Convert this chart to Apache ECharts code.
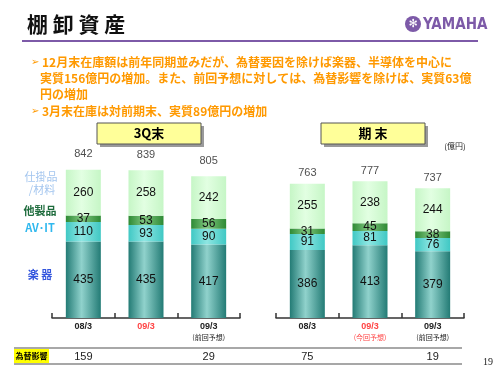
<!DOCTYPE html>
<html>
<head>
<meta charset="utf-8">
<script src="https://cdn.jsdelivr.net/npm/echarts@6/dist/echarts.min.js"></script>
<style>
  html, body { margin: 0; padding: 0; background: #fff; }
  #main { width: 500px; height: 375px; }
</style>
</head>
<body>
<div id="main"></div>
<script>
// 3Q末 (left) and 期末 (right) stacks, 億円
const q3Categories = ['08/3', '09/3', '09/3\n(前回予想)'];
const fyCategories = ['08/3', '09/3\n(今回予想)', '09/3\n(前回予想)'];

const q3Instruments = [435, 435, 417];
const q3AvIt = [110, 93, 90];
const q3Other = [37, 53, 56];
const q3Wip = [260, 258, 242];
const q3Total = [842, 839, 805];

const fyInstruments = [386, 413, 379];
const fyAvIt = [91, 81, 76];
const fyOther = [31, 45, 38];
const fyWip = [255, 238, 244];
const fyTotal = [763, 777, 737];

// 為替影響 row
const q3Fx = [159, null, 29];
const fyFx = [75, null, 19];

const font = '"Liberation Sans", Arial, sans-serif';
const jp = '"Noto Sans CJK JP", sans-serif';

function grad(edge, mid) {
  return {
    type: 'linear', x: 0, y: 0, x2: 1, y2: 0,
    colorStops: [
      { offset: 0, color: edge },
      { offset: 0.45, color: mid },
      { offset: 1, color: edge }
    ]
  };
}
const colInstruments = grad('#237b75', '#90d2cc');
const colAvIt = grad('#40c8c4', '#8ee6e2');
const colOther = grad('#2e8a34', '#80c680');
const colWip = grad('#c6f6c6', '#e2ffe2');

function segLabel() {
  return { show: true, position: 'inside', color: '#111', fontSize: 12, fontFamily: font };
}

function barSeries(name, data, color, g, stack) {
  return {
    name: name, type: 'bar', stack: stack, data: data,
    xAxisIndex: g, yAxisIndex: g, barWidth: 35,
    itemStyle: { color: color },
    label: segLabel()
  };
}

function totalSeries(data, g, dist) {
  return {
    type: 'scatter', data: data, xAxisIndex: g, yAxisIndex: g,
    symbolSize: 0, silent: true,
    label: { show: true, position: 'top', distance: dist, color: '#222', fontSize: 11, fontFamily: font }
  };
}

function catAxis(cats, g, hi) {
  return {
    type: 'category', gridIndex: g, data: cats, boundaryGap: true,
    axisLine: { lineStyle: { color: '#333', width: 1.5 } },
    axisTick: { show: true, inside: true, length: 5, lineStyle: { color: '#333', width: 1.5 } },
    axisLabel: {
      margin: 4, interval: 0, lineHeight: 10,
      formatter: function (v, i) {
        const parts = v.split('\n');
        const r = i === hi;
        let s = '{' + (r ? 'r' : 'm') + '|' + parts[0] + '}';
        if (parts[1]) s += '\n{' + (r ? 'rs' : 's') + '|' + parts[1] + '}';
        return s;
      },
      rich: {
        m: { fontSize: 9, fontWeight: 'bold', color: '#222', fontFamily: font },
        r: { fontSize: 9, fontWeight: 'bold', color: '#ff4444', fontFamily: font },
        s: { fontSize: 7, color: '#222', fontFamily: jp },
        rs: { fontSize: 7, color: '#ff4444', fontFamily: jp }
      }
    }
  };
}

function fxAxis(vals, g) {
  return {
    type: 'category', gridIndex: g, position: 'bottom', offset: 26,
    data: vals.map(function (v) { return v == null ? '' : String(v); }),
    axisLine: { show: false }, axisTick: { show: false },
    axisLabel: { interval: 0, margin: 7, fontSize: 11, color: '#222', fontFamily: font }
  };
}

function sideText(x, y, text, color, weight) {
  return {
    type: 'text', x: x, y: y,
    style: { text: text, fill: color, font: weight + ' 11px ' + jp, textAlign: 'center', textVerticalAlign: 'middle' }
  };
}

function headerBox(x, y, w, h, text) {
  return [
    { type: 'rect', shape: { x: x + 3, y: y + 3, width: w, height: h }, style: { fill: '#9a9a9a' } },
    { type: 'rect', shape: { x: x, y: y, width: w, height: h }, style: { fill: '#ffff99', stroke: '#555', lineWidth: 1 } },
    { type: 'text', x: x + w / 2, y: y + h / 2, style: { text: text, fill: '#000', font: 'bold 13px ' + jp, textAlign: 'center', textVerticalAlign: 'middle' } }
  ];
}

const orange = '#ff9900';
const bulletFont = 'bold 12px ' + jp;

const graphics = [
  { type: 'text', x: 27, y: 24, style: { text: '棚 卸 資 産', fill: '#111', font: 'bold 21px ' + jp, textVerticalAlign: 'middle' } },
  { type: 'line', shape: { x1: 22, y1: 41, x2: 478, y2: 41 }, style: { stroke: '#7d5aa8', lineWidth: 2 } },
  { type: 'circle', shape: { cx: 413, cy: 24, r: 8 }, style: { fill: '#7d5aa8' } },
  { type: 'text', x: 413, y: 24, style: { text: '✻', fill: '#fff', font: 'bold 11px "DejaVu Sans"', textAlign: 'center', textVerticalAlign: 'middle' } },
  { type: 'text', x: 423, y: 25, style: { text: 'YAMAHA', fill: '#7d5aa8', font: 'bold 15px "Liberation Sans Narrow", "DejaVu Sans Condensed", sans-serif', textVerticalAlign: 'middle' } },

  { type: 'text', x: 31, y: 62, style: { text: '➢', fill: orange, font: '10px "DejaVu Sans"', textVerticalAlign: 'middle' } },
  { type: 'text', x: 42, y: 62, style: { text: '12月末在庫額は前年同期並みだが、為替要因を除けば楽器、半導体を中心に', fill: orange, font: bulletFont, textVerticalAlign: 'middle' } },
  { type: 'text', x: 40, y: 78, style: { text: '実質156億円の増加。また、前回予想に対しては、為替影響を除けば、実質63億', fill: orange, font: bulletFont, textVerticalAlign: 'middle' } },
  { type: 'text', x: 40, y: 94, style: { text: '円の増加', fill: orange, font: bulletFont, textVerticalAlign: 'middle' } },
  { type: 'text', x: 31, y: 111, style: { text: '➢', fill: orange, font: '10px "DejaVu Sans"', textVerticalAlign: 'middle' } },
  { type: 'text', x: 42, y: 111, style: { text: '3月末在庫は対前期末、実質89億円の増加', fill: orange, font: bulletFont, textVerticalAlign: 'middle' } },

  { type: 'text', x: 455, y: 146, style: { text: '(億円)', fill: '#222', font: '8px ' + jp, textAlign: 'center', textVerticalAlign: 'middle' } },

  sideText(41, 177, '仕掛品', '#a4c6ef', 'normal'),
  sideText(42, 190, '/材料', '#a4c6ef', 'normal'),
  sideText(40, 211, '他製品', '#1d6b3c', 'bold'),
  sideText(40, 228, 'AV･IT', '#30b8ee', 'bold'),
  sideText(40, 275, '楽 器', '#3355dd', 'bold'),

  { type: 'line', shape: { x1: 14, y1: 348, x2: 462, y2: 348 }, style: { stroke: '#a8a8a8', lineWidth: 2 } },
  { type: 'line', shape: { x1: 14, y1: 364, x2: 462, y2: 364 }, style: { stroke: '#8a8a8a', lineWidth: 1.5 } },
  { type: 'rect', shape: { x: 14, y: 349, width: 35, height: 14 }, style: { fill: '#ffff00' } },
  { type: 'text', x: 31.5, y: 356, style: { text: '為替影響', fill: '#000', font: 'bold 8px ' + jp, textAlign: 'center', textVerticalAlign: 'middle' } },
  { type: 'text', x: 488, y: 362, style: { text: '19', fill: '#222', font: '10px "Liberation Serif", serif', textAlign: 'center', textVerticalAlign: 'middle' } }
].concat(headerBox(97, 123, 104, 21, '3Q末'), headerBox(321, 123, 104, 21, '期 末'));

const option = {
  animation: false,
  backgroundColor: '#fff',
  grid: [
    { left: 52, width: 188, top: 142, bottom: 57 },
    { left: 276, width: 188, top: 142, bottom: 57 }
  ],
  xAxis: [
    catAxis(q3Categories, 0, 1),
    catAxis(fyCategories, 1, 1),
    fxAxis(q3Fx, 0),
    fxAxis(fyFx, 1)
  ],
  yAxis: [
    { type: 'value', gridIndex: 0, min: 0, max: 1000, show: false },
    { type: 'value', gridIndex: 1, min: 0, max: 1000, show: false }
  ],
  series: [
    barSeries('楽器', q3Instruments, colInstruments, 0, 'q3'),
    barSeries('AV･IT', q3AvIt, colAvIt, 0, 'q3'),
    barSeries('他製品', q3Other, colOther, 0, 'q3'),
    barSeries('仕掛品/材料', q3Wip, colWip, 0, 'q3'),
    totalSeries(q3Total, 0, 10),
    barSeries('楽器', fyInstruments, colInstruments, 1, 'fy'),
    barSeries('AV･IT', fyAvIt, colAvIt, 1, 'fy'),
    barSeries('他製品', fyOther, colOther, 1, 'fy'),
    barSeries('仕掛品/材料', fyWip, colWip, 1, 'fy'),
    totalSeries(fyTotal, 1, 5)
  ],
  graphic: graphics
};

echarts.init(document.getElementById('main')).setOption(option);
</script>
</body>
</html>
